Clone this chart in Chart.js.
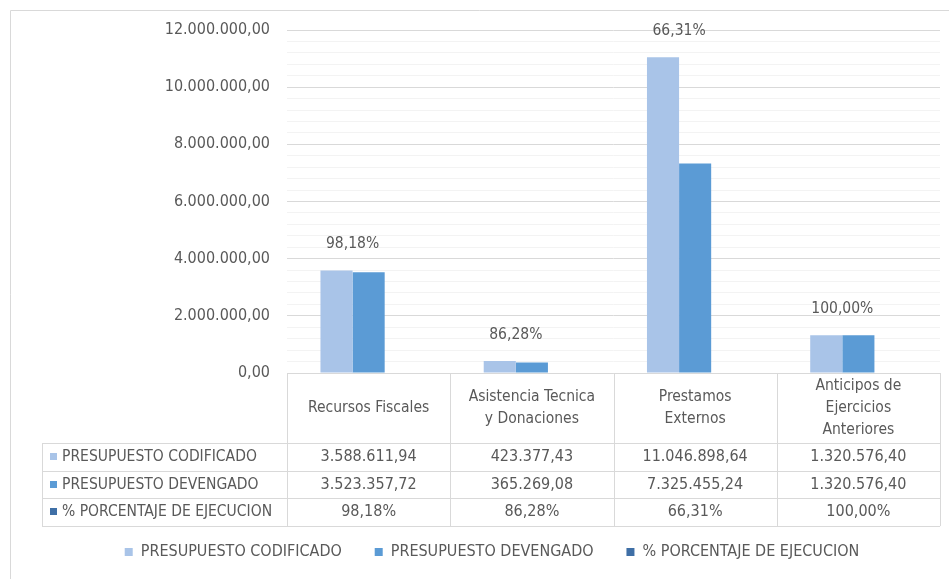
<!DOCTYPE html>
<html>
<head>
<meta charset="utf-8">
<script src="https://cdn.jsdelivr.net/npm/chart.js@4.4.1/dist/chart.umd.min.js"></script>
<style>
  html, body { margin: 0; padding: 0; background: #fff; }
  #wrap { width: 949px; height: 579px; }
</style>
</head>
<body>
<div id="wrap"><canvas id="budgetChart" width="949" height="579"></canvas></div>
<script>
// data
const categories = [
    ['Recursos Fiscales'],
    ['Asistencia Tecnica', 'y Donaciones'],
    ['Prestamos', 'Externos'],
    ['Anticipos de', 'Ejercicios', 'Anteriores']
];
const codificado = [3588611.94, 423377.43, 11046898.64, 1320576.40];
const devengado = [3523357.72, 365269.08, 7325455.24, 1320576.40];
const porcentaje = [98.18, 86.28, 66.31, 100.00];
const seriesNames = ['PRESUPUESTO CODIFICADO', 'PRESUPUESTO DEVENGADO', '% PORCENTAJE DE EJECUCION'];
const seriesColors = ['#A9C4E8', '#5B9BD5', '#3F6FA6'];
const yMax = 12000000;
const yMajor = 2000000;
const yMinor = 400000;

const FONT = '"DejaVu Sans Condensed", "DejaVu Sans", sans-serif';
const TEXT = '#595959';
const LINE = '#D9D9D9';

// 12.000.000,00 style numbers
function fmt(v, d) {
    const parts = v.toFixed(d).split('.');
    const intPart = parts[0].replace(/\B(?=(\d{3})+(?!\d))/g, '.');
    return parts.length > 1 ? intPart + ',' + parts[1] : intPart;
}

const tableRows = [
    codificado.map(v => fmt(v, 2)),
    devengado.map(v => fmt(v, 2)),
    porcentaje.map(v => fmt(v, 2) + '%')
];

const HEADER_H = 70;
const ROW_H = 27.7;
const TABLE_LEFT = 42;

// outer frame of the screenshot
const framePlugin = {
    id: 'frame',
    beforeDraw(chart) {
        const c = chart.ctx;
        c.save();
        c.strokeStyle = LINE;
        c.lineWidth = 1;
        c.beginPath();
        c.moveTo(10.5, chart.height);
        c.lineTo(10.5, 10.5);
        c.lineTo(chart.width, 10.5);
        c.stroke();
        c.restore();
    }
};

// percentage labels above each group
const pctLabels = {
    id: 'pctLabels',
    afterDatasetsDraw(chart) {
        const c = chart.ctx;
        const m0 = chart.getDatasetMeta(0).data;
        const m1 = chart.getDatasetMeta(1).data;
        c.save();
        c.font = '15.5px ' + FONT;
        c.fillStyle = TEXT;
        c.textAlign = 'center';
        c.textBaseline = 'middle';
        porcentaje.forEach((p, i) => {
            const x = m0[i].x + m0[i].width / 2;
            const y = Math.min(m0[i].y, m1[i].y) - 26;
            c.fillText(fmt(p, 2) + '%', x, y);
        });
        c.restore();
    }
};

// excel style data table under the bars
const dataTable = {
    id: 'dataTable',
    afterDraw(chart) {
        const c = chart.ctx;
        const area = chart.chartArea;
        const xs = chart.scales.x;
        const n = categories.length;
        const colW = (area.right - area.left) / n;
        const top = area.bottom;
        const rowsTop = top + HEADER_H;
        const bottom = rowsTop + ROW_H * tableRows.length;

        c.save();
        c.strokeStyle = LINE;
        c.lineWidth = 1;
        c.beginPath();
        // header top line
        c.moveTo(area.left, Math.round(top) + 0.5);
        c.lineTo(area.right, Math.round(top) + 0.5);
        // row lines
        for (let r = 0; r <= tableRows.length; r++) {
            const y = Math.round(rowsTop + r * ROW_H) + 0.5;
            c.moveTo(TABLE_LEFT, y);
            c.lineTo(area.right, y);
        }
        // column lines
        for (let k = 0; k <= n; k++) {
            const x = Math.round(area.left + k * colW) + 0.5;
            c.moveTo(x, top);
            c.lineTo(x, bottom);
        }
        c.moveTo(TABLE_LEFT + 0.5, rowsTop);
        c.lineTo(TABLE_LEFT + 0.5, bottom);
        c.stroke();

        c.fillStyle = TEXT;
        c.textBaseline = 'middle';
        c.textAlign = 'center';
        c.font = '15.5px ' + FONT;
        // category header
        categories.forEach((lines, i) => {
            const x = xs.getPixelForValue(i);
            const lh = 22;
            const y0 = top + HEADER_H / 2 - (lines.length - 1) * lh / 2;
            lines.forEach((t, j) => c.fillText(t, x, y0 + j * lh));
        });
        // values
        c.font = '16px ' + FONT;
        tableRows.forEach((row, r) => {
            const y = rowsTop + r * ROW_H + ROW_H / 2;
            row.forEach((t, i) => c.fillText(t, xs.getPixelForValue(i), y));
        });
        // row keys
        c.textAlign = 'left';
        c.font = '15.5px ' + FONT;
        seriesNames.forEach((name, r) => {
            const y = rowsTop + r * ROW_H + ROW_H / 2;
            c.fillStyle = seriesColors[r];
            c.fillRect(50, Math.round(y - 4), 7, 7);
            c.fillStyle = TEXT;
            c.fillText(name, 62, y);
        });
        c.restore();
    }
};

Chart.defaults.font.family = FONT;
Chart.defaults.color = TEXT;

new Chart(document.getElementById('budgetChart'), {
    type: 'bar',
    data: {
        labels: categories,
        datasets: [
            { label: seriesNames[0], data: codificado, backgroundColor: seriesColors[0] },
            { label: seriesNames[1], data: devengado, backgroundColor: seriesColors[1] },
            // the percentage sits on the money axis, so its bar is flat (no visible mark)
            {
                label: seriesNames[2],
                data: porcentaje.map(p => p / 100),
                backgroundColor: ctx => ctx.type === 'data' ? 'rgba(0,0,0,0)' : seriesColors[2]
            }
        ]
    },
    options: {
        responsive: false,
        animation: false,
        layout: { padding: { top: 30, right: 9, bottom: 9, left: 44 } },
        datasets: { bar: { categoryPercentage: 0.59, barPercentage: 1, borderWidth: 0 } },
        plugins: {
            legend: {
                position: 'bottom',
                labels: {
                    boxWidth: 8,
                    boxHeight: 8,
                    padding: 10,
                    font: { size: 16 },
                    color: TEXT,
                    generateLabels(chart) {
                        const items = Chart.defaults.plugins.legend.labels.generateLabels(chart);
                        items.forEach((it, i) => {
                            it.fillStyle = seriesColors[i];
                            if (i < items.length - 1) it.text += '     ';
                        });
                        return items;
                    }
                }
            },
            tooltip: { enabled: false }
        },
        scales: {
            x: {
                grid: { display: false },
                border: { display: false },
                ticks: { display: false },
                afterFit(scale) { scale.height = 161; }
            },
            y: {
                min: 0,
                max: yMax,
                border: { display: false },
                grid: {
                    drawTicks: false,
                    color: ctx => (ctx.tick && ctx.tick.value % yMajor === 0) ? LINE : '#F3F3F3'
                },
                ticks: {
                    stepSize: yMinor,
                    autoSkip: false,
                    maxTicksLimit: 40,
                    padding: 17,
                    font: { size: 16 },
                    color: TEXT,
                    callback: v => (v % yMajor === 0) ? fmt(v, 2) : ''
                },
                afterFit(scale) { scale.width = 243; }
            }
        }
    },
    plugins: [framePlugin, pctLabels, dataTable]
});
</script>
</body>
</html>
